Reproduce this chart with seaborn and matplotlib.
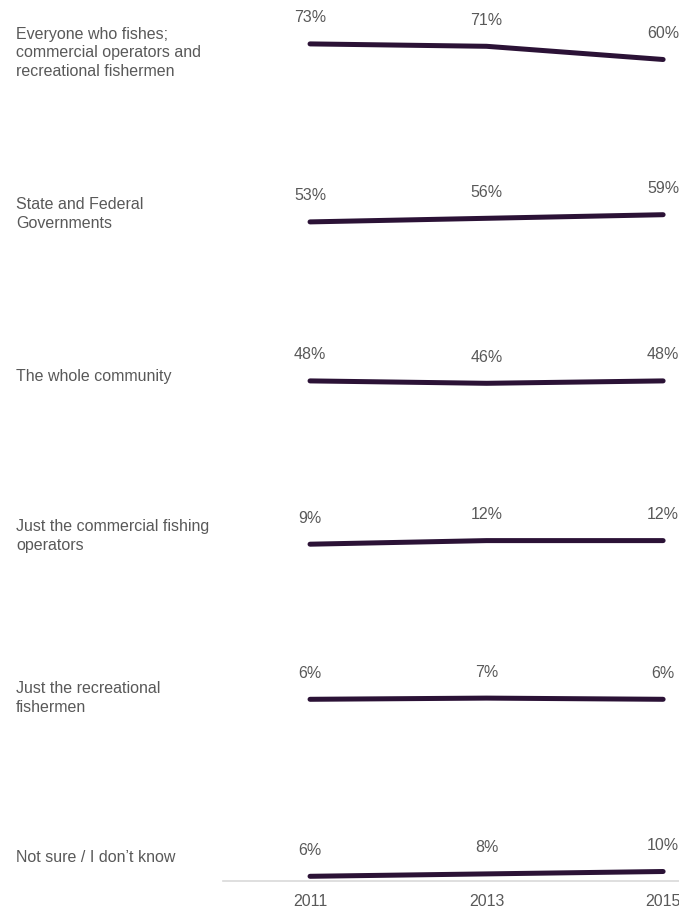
import matplotlib
matplotlib.use("Agg")
import matplotlib.pyplot as plt
import seaborn as sns
import pandas as pd

# Survey answers: who is responsible for looking after fish stocks
categories = [
    "Everyone who fishes;\ncommercial operators and\nrecreational fishermen",
    "State and Federal\nGovernments",
    "The whole community",
    "Just the commercial fishing\noperators",
    "Just the recreational\nfishermen",
    "Not sure / I don\u2019t know",
]
years = [2011, 2013, 2015]
year_labels = ["2011", "2013", "2015"]
pct_everyone = [73, 71, 60]
pct_government = [53, 56, 59]
pct_community = [48, 46, 48]
pct_commercial = [9, 12, 12]
pct_recreational = [6, 7, 6]
pct_not_sure = [6, 8, 10]
series = [pct_everyone, pct_government, pct_community,
          pct_commercial, pct_recreational, pct_not_sure]

rows = []
for cat, vals in zip(categories, series):
    for y, v in zip(years, vals):
        rows.append({"category": cat, "year": y, "pct": v})
df = pd.DataFrame(rows)

sns.set_theme(style="white")
plt.rcParams["font.family"] = ["Liberation Sans", "DejaVu Sans"]

W, H, DPI = 679, 910, 100
fig = plt.figure(figsize=(W / DPI, H / DPI), dpi=DPI)
fig.patch.set_facecolor("white")

LINE = "#2b1236"
TEXT = "#595959"
FS = 11.5
PX_PER_PCT = 1.2
AX_LEFT, AX_RIGHT = 223, 679
XLIM = (2010.014, 2015.18)

# pixel position (from top) of each panel's zero line and its label centre
zero_px = [131.5, 285.5, 438.5, 555.0, 706.5, 883.5]
label_px = [53, 214, 376, 536, 698, 858]

for i, cat in enumerate(categories):
    sub = df[df["category"] == cat]
    height = 100 * PX_PER_PCT
    ax = fig.add_axes([AX_LEFT / W, (H - zero_px[i]) / H,
                       (AX_RIGHT - AX_LEFT) / W, height / H])
    sns.lineplot(data=sub, x="year", y="pct", ax=ax, color=LINE,
                 linewidth=3.6, clip_on=False, legend=False)
    for line in ax.get_lines():
        line.set_solid_capstyle("round")
        line.set_solid_joinstyle("round")
    ax.set_xlim(*XLIM)
    ax.set_ylim(0, 100)
    ax.axis("off")
    ax.patch.set_alpha(0)
    for x, v in zip(sub["year"], sub["pct"]):
        ax.annotate(f"{v}%", (x, v), xytext=(0, 26), textcoords="offset pixels",
                    ha="center", va="center", fontsize=FS, color=TEXT)
    fig.text(16 / W, (H - label_px[i]) / H, cat, ha="left", va="center",
             fontsize=FS, color=TEXT, linespacing=1.33)

# shared year axis along the bottom
axx = fig.add_axes([AX_LEFT / W, (H - 881) / H, (AX_RIGHT - AX_LEFT) / W, 0.001])
axx.set_xlim(*XLIM)
axx.set_yticks([])
axx.set_xticks(years)
axx.set_xticklabels(year_labels, fontsize=FS, color=TEXT)
axx.tick_params(axis="x", length=0, pad=9)
for side in ["top", "left", "right"]:
    axx.spines[side].set_visible(False)
axx.spines["bottom"].set_color("#d9d9d9")
axx.spines["bottom"].set_linewidth(1.2)
axx.patch.set_alpha(0)

fig.savefig("out.png", dpi=DPI, facecolor="white")
